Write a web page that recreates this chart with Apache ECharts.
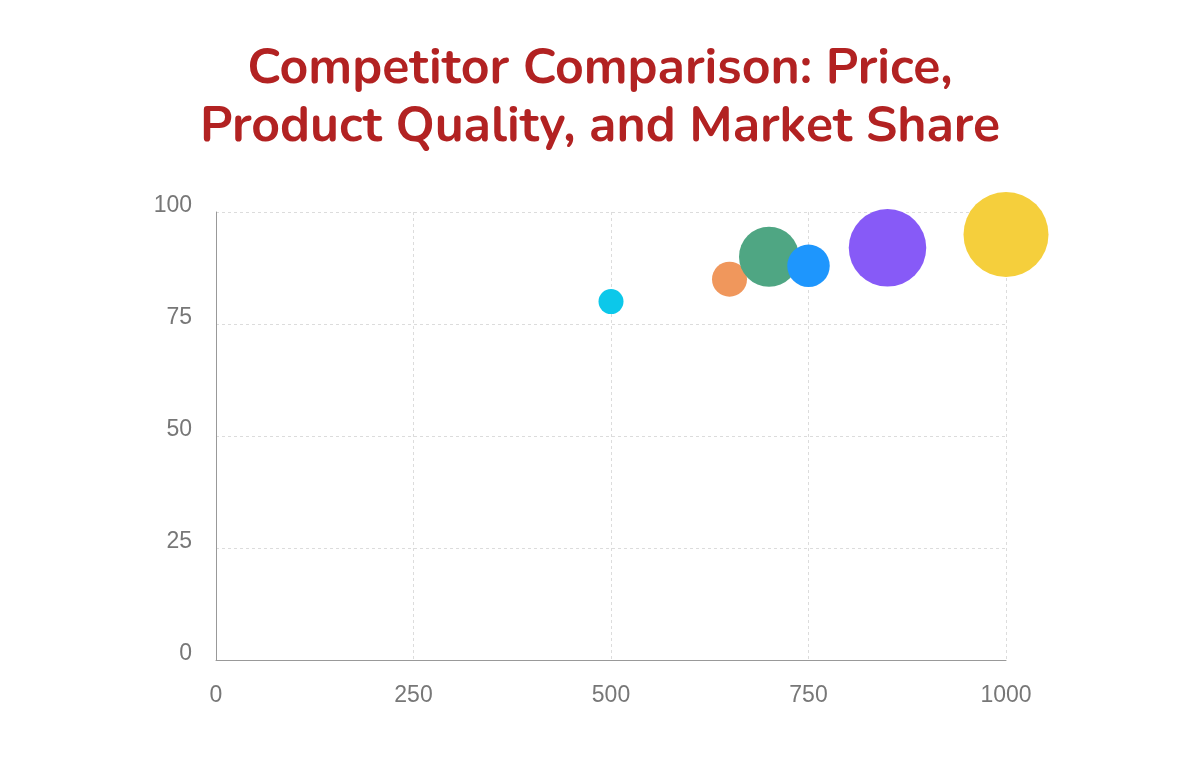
<!DOCTYPE html>
<html>
<head>
<meta charset="utf-8">
<title>Competitor Comparison</title>
<script src="https://cdn.jsdelivr.net/npm/echarts@6/dist/echarts.min.js"></script>
<style>
  html, body { margin: 0; padding: 0; background: #fff; }
  #chart { width: 1200px; height: 771px; }
</style>
</head>
<body>
<div id="chart"></div>
<script>
// 竞品数据：价格 / 质量评分 / 市场份额
const competitors = ['Competitor A', 'Competitor B', 'Competitor C', 'Competitor D', 'Competitor E', 'Competitor F']
const prices = [500, 650, 700, 750, 850, 1000]
const quality = [80, 85, 90, 88, 92, 95]
const marketShare = [10, 14, 24, 17, 31, 34]
const colors = ['#0cc8ea', '#f0975c', '#4fa683', '#1e96fd', '#875af7', '#f5cf3c']

const xTicks = [0, 250, 500, 750, 1000]
const yTicks = [0, 25, 50, 75, 100]

const myChart = echarts.init(document.getElementById('chart'))

const gridLine = {
    show: true,
    lineStyle: { color: '#dcdcdc', type: [3, 3], width: 1 }
}

const option = {
    backgroundColor: '#fff',
    animation: false,
    title: {
        text: 'Competitor Comparison: Price,\nProduct Quality, and Market Share',
        left: 'center',
        top: 37,
        textStyle: {
            fontFamily: 'Nunito, Lato, "Open Sans", sans-serif',
            fontWeight: 'bold',
            fontSize: 50,
            lineHeight: 58,
            color: '#b22222'
        }
    },
    grid: { left: 216, right: 194, top: 212, bottom: 111 },
    xAxis: {
        type: 'value',
        min: xTicks[0],
        max: xTicks[xTicks.length - 1],
        interval: 250,
        axisLine: { show: true, lineStyle: { color: '#999', width: 1 } },
        axisTick: { show: false },
        splitLine: gridLine,
        axisLabel: {
            color: '#777',
            fontSize: 23,
            fontFamily: '"Liberation Sans", Arial, sans-serif',
            margin: 24,
            formatter: function (v) { return String(v) }
        }
    },
    yAxis: {
        type: 'value',
        min: yTicks[0],
        max: yTicks[yTicks.length - 1],
        interval: 25,
        axisLine: { show: true, lineStyle: { color: '#999', width: 1 } },
        axisTick: { show: false },
        splitLine: gridLine,
        axisLabel: {
            color: '#777',
            fontSize: 23,
            fontFamily: '"Liberation Sans", Arial, sans-serif',
            margin: 24,
            verticalAlign: 'bottom',
            lineHeight: 12
        }
    },
    series: [{
        type: 'scatter',
        data: competitors.map((name, i) => ({
            name: name,
            value: [prices[i], quality[i], marketShare[i]],
            itemStyle: { color: colors[i], opacity: 1 }
        })),
        symbolSize: function (val) {
            return val[2] * 2.5
        }
    }]
}

myChart.setOption(option)
window.addEventListener('resize', function () {
    myChart.resize()
})
</script>
</body>
</html>
